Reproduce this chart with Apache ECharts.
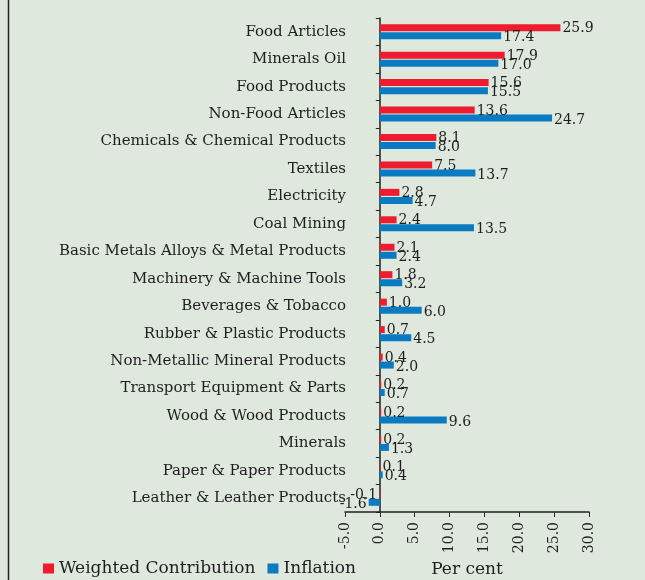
<!DOCTYPE html>
<html>
<head>
<meta charset="utf-8">
<script src="https://cdn.jsdelivr.net/npm/echarts@6/dist/echarts.min.js"></script>
<style>
  html, body { margin: 0; padding: 0; background: #dee8dc; }
  #chart { width: 645px; height: 580px; }
</style>
</head>
<body>
<div id="chart"></div>
<script>
const categories = [
  'Food Articles', 'Minerals Oil', 'Food Products', 'Non-Food Articles',
  'Chemicals & Chemical Products', 'Textiles', 'Electricity', 'Coal Mining',
  'Basic Metals Alloys & Metal Products', 'Machinery & Machine Tools',
  'Beverages & Tobacco', 'Rubber & Plastic Products', 'Non-Metallic Mineral Products',
  'Transport Equipment & Parts', 'Wood & Wood Products', 'Minerals',
  'Paper & Paper Products', 'Leather & Leather Products'
];
const weightedContribution = [25.9, 17.9, 15.6, 13.6, 8.1, 7.5, 2.8, 2.4, 2.1, 1.8, 1.0, 0.7, 0.4, 0.2, 0.2, 0.2, 0.1, -0.1];
const inflation = [17.4, 17.0, 15.5, 24.7, 8.0, 13.7, 4.7, 13.5, 2.4, 3.2, 6.0, 4.5, 2.0, 0.7, 9.6, 1.3, 0.4, -1.6];
const xTicks = [-5, 0, 5, 10, 15, 20, 25, 30];

const FONT = 'DejaVu Serif';
const TEXT = '#1e1e1e';

// negative values get their label on the left of the bar
function toItems(values) {
  return values.map(v => ({
    value: v,
    label: { position: v < 0 ? 'left' : 'right' }
  }));
}

const chart = echarts.init(document.getElementById('chart'));
chart.setOption({
  backgroundColor: '#dee8dc',
  animation: false,
  textStyle: { fontFamily: FONT, color: TEXT },
  title: {
    text: 'March 2010',
    left: 'center',
    top: -19,
    textStyle: { fontFamily: FONT, fontSize: 18, fontWeight: 'bold', color: TEXT }
  },
  graphic: [{
    type: 'line',
    shape: { x1: 8.5, y1: 0, x2: 8.5, y2: 580 },
    style: { stroke: '#222', lineWidth: 1.5 }
  }],
  legend: {
    left: 38,
    top: 555,
    icon: 'rect',
    itemWidth: 11,
    itemHeight: 10,
    itemGap: 12,
    textStyle: { fontFamily: FONT, fontSize: 17, color: TEXT }
  },
  grid: {
    left: 345, right: 56, top: 18, bottom: 68,
    containLabel: false,
    outerBoundsMode: 'none'
  },
  xAxis: {
    type: 'value',
    min: xTicks[0],
    max: xTicks[xTicks.length - 1],
    interval: 5,
    name: 'Per cent',
    nameLocation: 'middle',
    nameGap: 45,
    nameTextStyle: { fontFamily: FONT, fontSize: 17, color: TEXT },
    splitLine: { show: false },
    axisLine: { show: true, lineStyle: { color: '#222', width: 1.5 } },
    axisTick: { show: true, length: 5, lineStyle: { color: '#222' } },
    axisLabel: {
      rotate: 90,
      fontFamily: FONT,
      fontSize: 14,
      color: TEXT,
      margin: 10,
      formatter: v => v.toFixed(1)
    }
  },
  yAxis: {
    type: 'category',
    data: categories,
    inverse: true,
    axisLine: { show: true, onZero: true, lineStyle: { color: '#222', width: 1.5 } },
    axisTick: { show: true, length: 4, lineStyle: { color: '#222' } },
    axisLabel: {
      fontFamily: FONT, fontSize: 15, color: TEXT, margin: -1,
      padding: [0, 0, 5, 0]
    }
  },
  series: [
    {
      name: 'Weighted Contribution',
      type: 'bar',
      data: toItems(weightedContribution),
      barWidth: 7,
      barGap: '15%',
      itemStyle: { color: '#ee1c2e' },
      label: {
        show: true, distance: 2, offset: [0, 1],
        fontFamily: FONT, fontSize: 14, color: TEXT,
        formatter: p => p.value.toFixed(1)
      }
    },
    {
      name: 'Inflation',
      type: 'bar',
      data: toItems(inflation),
      barWidth: 7,
      barGap: '15%',
      itemStyle: { color: '#0a7bc3' },
      label: {
        show: true, distance: 2, offset: [0, 2],
        fontFamily: FONT, fontSize: 14, color: TEXT,
        formatter: p => p.value.toFixed(1)
      }
    }
  ]
});
</script>
</body>
</html>
